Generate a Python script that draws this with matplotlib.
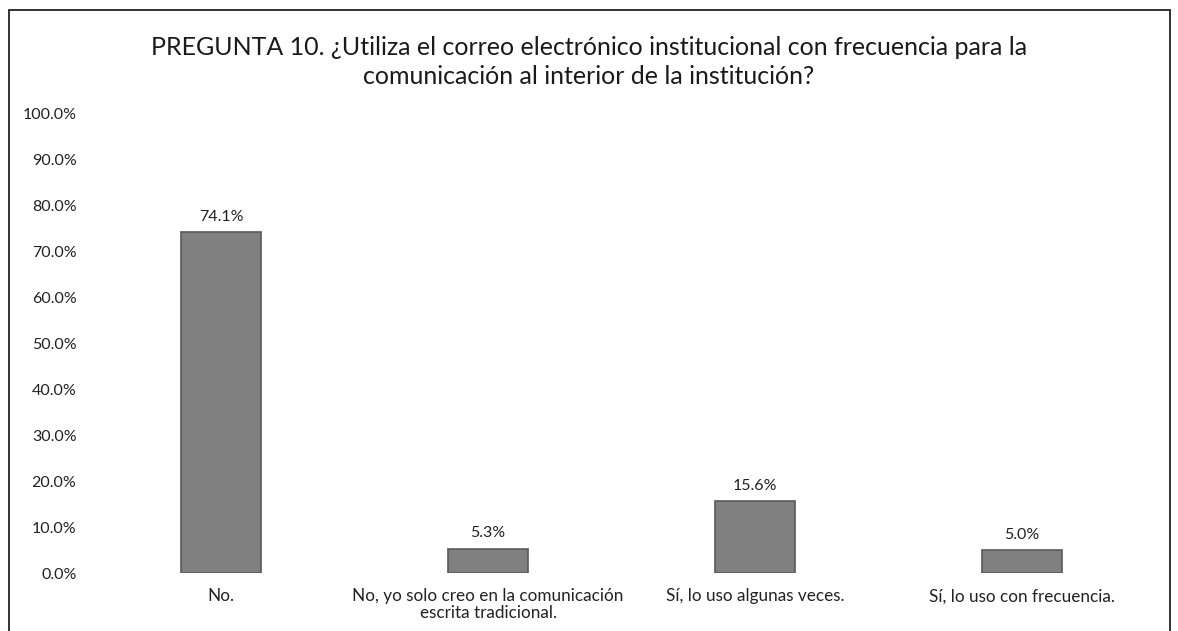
import matplotlib.pyplot as plt
from matplotlib.patches import Rectangle

categorias = ["No.",
              "No, yo solo creo en la comunicación\nescrita tradicional.",
              "Sí, lo uso algunas veces.",
              "Sí, lo uso con frecuencia."]
porcentajes = [74.1, 5.3, 15.6, 5.0]
ticks_y = [0, 10, 20, 30, 40, 50, 60, 70, 80, 90, 100]
titulo = ("PREGUNTA 10. ¿Utiliza el correo electrónico institucional con frecuencia para la\n"
          "comunicación al interior de la institución?")

plt.rcParams['font.family'] = ['Lato', 'DejaVu Sans']

fig = plt.figure(figsize=(11.78, 6.31), dpi=100)
ax = fig.add_axes([0.0743, 0.0919, 0.9066, 0.729])

x = range(len(categorias))
bars = ax.bar(x, porcentajes, width=0.30, color="#808080", edgecolor="#5a5a5a", linewidth=1.2)

for b, v in zip(bars, porcentajes):
    ax.annotate(f"{v:.1f}%", (b.get_x() + b.get_width() / 2, v),
                xytext=(0, 6), textcoords="offset points",
                ha="center", va="bottom", fontsize=11.5, color="#222222")

ax.set_xlim(-0.5, len(categorias) - 0.5)
ax.set_ylim(0, 100)
ax.set_yticks(ticks_y)
ax.set_yticklabels([f"{t:.1f}%" for t in ticks_y])
ax.set_xticks(list(x))
ax.set_xticklabels(categorias, linespacing=1.05)
ax.tick_params(axis="y", length=0, pad=8, labelsize=11.5, labelcolor="#222222")
ax.tick_params(axis="x", length=0, pad=11, labelsize=12.3, labelcolor="#222222")
for s in ax.spines.values():
    s.set_visible(False)

fig.text(0.5, 0.902, titulo, ha="center", va="center", fontsize=18,
         color="#1a1a1a", linespacing=1.35)

# marco del grafico
fig.patches.append(Rectangle((9 / 1178, -0.01), 1161 / 1178, 1 - 10 / 631 + 0.01,
                             transform=fig.transFigure, fill=False,
                             edgecolor="#222222", linewidth=1.3))

fig.savefig("out.png", dpi=100)
